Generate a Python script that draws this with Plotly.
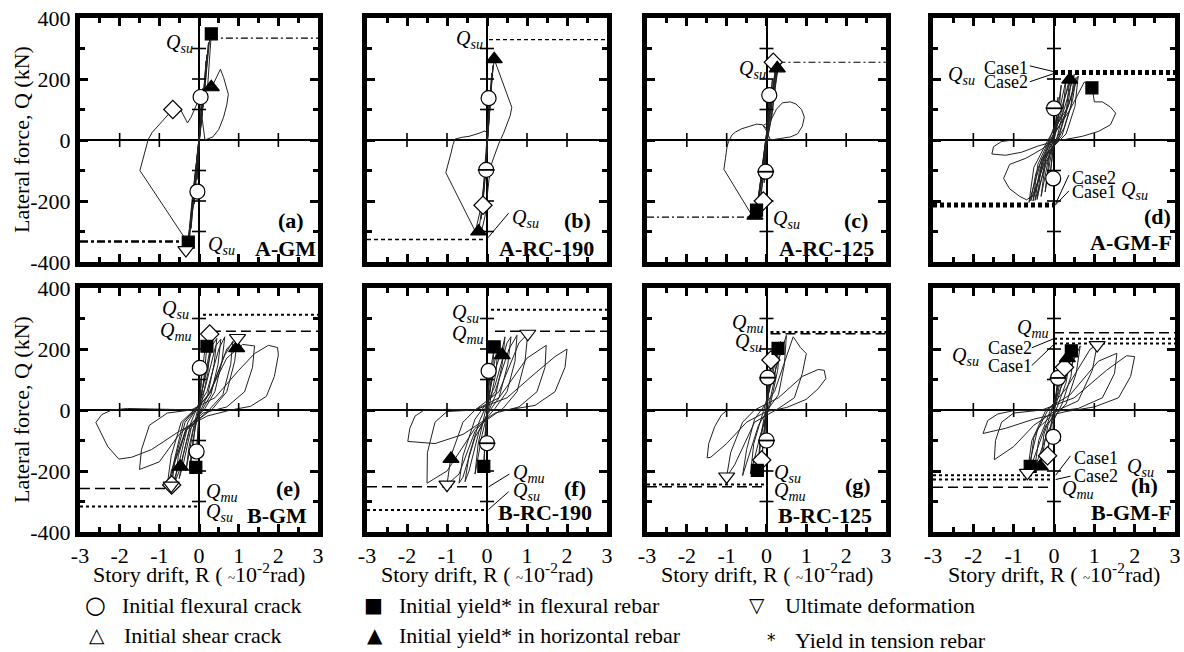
import plotly.graph_objects as go

FONT = "Liberation Serif, Times New Roman, serif"
W, H = 1184, 652

# ---------------- data ----------------
R_ticks = [-3, -2, -1, 0, 1, 2, 3]
R_ticktext = ["-3", "-2", "-1", "0", "1", "2", "3"]
Q_ticks = [-400, -200, 0, 200, 400]
Q_ticktext = ["-400", "-200", "0", "200", "400"]
cross_R = [-2, -1, 1, 2]
cross_Q = [-300, -200, -100, 100, 200, 300]

# hysteresis curves (R in 1e-2 rad, Q in kN)
loop_a = [(0, 0), (0.04, 60), (0.06, 120), (0.02, 30), (-0.02, -50), (-0.05, -130), (-0.01, -30),
          (0.05, 80), (0.1, 170), (0.05, 60), (-0.06, -90), (-0.12, -210), (-0.05, -60),
          (0.08, 100), (0.18, 260), (0.1, 120), (-0.1, -130), (-0.2, -290), (-0.1, -120),
          (0.06, 60), (0.2, 280), (0.12, 140), (-0.04, -40), (-0.24, -320), (-0.14, -170),
          (0.03, 20), (0.24, 320), (0.15, 170), (-0.02, -20), (-0.27, -330), (-0.17, -190),
          (0.1, 110), (0.28, 345), (0.31, 350), (0.25, 240), (0.22, 180), (0.31, 170), (0.42, 200),
          (0.54, 232), (0.62, 205), (0.74, 150), (0.7, 115), (0.62, 75), (0.5, 35), (0.35, 10),
          (0.15, 0), (0.06, 90), (0.04, 141), (-0.05, 120), (-0.12, 98), (-0.2, 75), (-0.29, 56),
          (-0.4, 85), (-0.5, 108), (-0.66, 100), (-0.8, 80), (-1.03, 50), (-1.18, 25), (-1.28, 2),
          (-1.34, -30), (-1.4, -60), (-1.49, -100), (-0.29, -335), (-0.22, -280), (-0.12, -200),
          (-0.05, -100), (0, -20)]
loop_b = [(0, 0), (0.03, 80), (0.06, 140), (0.02, 40), (-0.02, -60), (-0.04, -120), (-0.01, -30),
          (0.05, 100), (0.12, 220), (0.06, 80), (-0.05, -110), (-0.1, -200), (-0.04, -80),
          (0.04, 60), (0.15, 245), (0.08, 110), (-0.06, -130), (-0.15, -260), (-0.06, -100),
          (0.08, 150), (0.18, 265), (0.25, 240), (0.33, 205), (0.45, 165), (0.55, 130), (0.62, 107),
          (0.58, 80), (0.5, 50), (0.41, 21), (0.3, -10), (0.2, -45), (0.12, -75), (0.05, -130),
          (0.0, -200), (-0.05, -250), (-0.12, -290), (-0.21, -300), (-0.1, -200), (-0.04, -120),
          (0, -40), (0.02, 20), (-0.05, 30), (-0.2, 22), (-0.45, 12), (-0.62, 9), (-0.8, 3),
          (-0.85, -15), (-0.9, -43), (-0.96, -75), (-1.03, -107), (-0.29, -300), (-0.15, -220),
          (-0.06, -130), (0, -20)]
loop_c = [(0, 0), (0.04, 70), (0.07, 147), (0.02, 40), (-0.03, -60), (-0.06, -140), (-0.01, -30),
          (0.06, 100), (0.15, 200), (0.08, 80), (-0.05, -80), (-0.15, -200), (-0.06, -60),
          (0.1, 120), (0.22, 230), (0.1, 70), (-0.1, -110), (-0.22, -230), (-0.1, -80),
          (0.12, 140), (0.27, 240), (0.15, 90), (-0.05, -50), (-0.25, -240), (-0.12, -100),
          (0.08, 100), (0.25, 235), (0.18, 160), (-0.02, 0), (-0.2, -200), (-0.27, -245), (-0.16, -150),
          (0.05, 60), (0.3, 245), (0.2, 150), (0.1, 60), (0.05, 30), (-0.08, 48), (0.1, 62),
          (0.25, 101), (0.4, 122), (0.6, 125), (0.74, 118), (0.88, 100), (0.95, 75), (0.9, 45),
          (0.78, 20), (0.6, 10), (0.35, 5), (0.1, 0), (0.0, 30), (-0.1, 50), (-0.25, 52),
          (-0.45, 44), (-0.62, 37), (-0.78, 26), (-0.87, 16), (-0.95, -5), (-0.99, -21),
          (-1.03, -60), (-1.07, -96), (-0.37, -246), (-0.29, -250), (-0.2, -180), (-0.1, -90), (0, 0)]
loop_d = [(0, 0), (0.05, 80), (0.1, 140), (0.04, 40), (-0.04, -50), (-0.1, -120), (-0.03, -20),
          (0.08, 90), (0.18, 180), (0.1, 60), (0, 0), (-0.1, -70), (-0.22, -170), (-0.1, -40), (0, 10),
          (0.15, 100), (0.3, 200), (0.22, 90), (0.08, 10), (-0.12, -50), (-0.32, -185), (-0.2, -60), (-0.05, 0),
          (0.2, 100), (0.4, 210), (0.3, 90), (0.12, 10), (-0.2, -60), (-0.42, -195), (-0.3, -70), (-0.08, 0),
          (0.25, 100), (0.5, 215), (0.42, 110), (0.2, 15), (-0.25, -60), (-0.52, -200), (-0.4, -80), (-0.12, 0),
          (0.22, 120), (0.45, 212), (0.35, 120), (0.15, 30), (-0.2, -80), (-0.47, -198), (-0.36, -100), (-0.1, -10),
          (0.3, 90), (0.6, 210), (0.52, 110), (0.3, 20), (-0.3, -60), (-0.62, -205), (-0.5, -90), (-0.15, 0),
          (0.35, 110), (0.55, 205), (0.46, 130), (0.25, 40), (-0.28, -90), (-0.58, -200), (-0.45, -110), (-0.1, 0),
          (0.4, 100), (0.75, 190), (0.95, 171), (1.0, 125), (1.2, 125), (1.4, 108), (1.53, 88),
          (1.4, 50), (1.1, 28), (0.7, 12), (0.3, 3), (0, -5), (-0.4, -20), (-0.8, -40), (-1.2, -50),
          (-1.54, -46), (-1.5, -22), (-1.3, -5), (-0.9, 2), (-0.5, 2), (0, 0), (-0.3, -30), (-0.7, -60),
          (-1.1, -80), (-1.25, -126), (-1.1, -160), (-0.85, -185), (-0.68, -196), (-0.5, -180),
          (-0.35, -120), (-0.2, -50), (0, 0)]
loop_e = [(0, 0), (0.04, 80), (0.08, 150), (0.03, 40), (-0.03, -50), (-0.06, -136), (-0.02, -30),
          (0.06, 100), (0.15, 200), (0.2, 209), (0.12, 100), (0.02, 10), (-0.1, -60), (-0.2, -170),
          (-0.25, -200), (-0.15, -100), (-0.03, -10),
          (0.1, 80), (0.28, 200), (0.22, 120), (0.06, 20), (-0.15, -70), (-0.33, -200), (-0.25, -120), (-0.05, -10),
          (0.15, 100), (0.35, 215), (0.45, 235), (0.38, 150), (0.22, 50), (0.05, 0), (-0.2, -60),
          (-0.4, -180), (-0.5, -225), (-0.4, -150), (-0.2, -40),
          (0.15, 70), (0.42, 210), (0.55, 232), (0.48, 150), (0.3, 50), (0.08, 0), (-0.25, -70),
          (-0.5, -200), (-0.6, -235), (-0.52, -150), (-0.28, -40),
          (0.2, 60), (0.5, 200), (0.65, 240), (0.58, 160), (0.4, 60), (0.15, 5), (-0.3, -60),
          (-0.55, -200), (-0.69, -250), (-0.6, -160), (-0.35, -40),
          (0.3, 60), (0.7, 200), (0.97, 236), (0.9, 160), (0.7, 60), (0.35, 5), (-0.3, -60),
          (-0.7, -200), (-0.72, -265), (-0.65, -180), (-0.4, -40),
          (0.25, 50), (0.65, 180), (0.85, 225), (0.8, 150), (0.6, 50), (0.25, 0), (-0.35, -70),
          (-0.75, -220), (-0.8, -245), (-0.7, -150), (-0.45, -40),
          (0.2, 40), (0.7, 170), (1.1, 215), (1.4, 210), (1.35, 140), (1.15, 60), (0.7, 10), (0.1, -10),
          (-0.5, -80), (-1.0, -170), (-1.5, -195), (-1.45, -130), (-1.25, -50), (-0.8, -10), (-0.2, 0),
          (0.4, 40), (1.0, 130), (1.4, 185), (1.75, 212), (1.98, 205), (2.0, 180), (1.9, 110),
          (1.7, 45), (1.3, 12), (0.8, 0), (0.2, -20), (-0.5, -70), (-1.2, -130), (-1.7, -155),
          (-2.02, -161), (-2.3, -120), (-2.6, -41), (-2.45, -15), (-2.2, 0), (-1.8, 5), (-1.0, 3),
          (-0.3, 0), (0, 0)]
loop_f = [(0, 0), (0.04, 80), (0.06, 128), (0.02, 30), (-0.02, -50), (0, -109), (-0.02, -30),
          (0.08, 120), (0.18, 207), (0.12, 100), (0.02, 10), (-0.05, -80), (-0.08, -185), (-0.03, -60),
          (0.1, 100), (0.28, 215), (0.22, 120), (0.05, 10), (-0.12, -80), (-0.3, -210), (-0.22, -110), (-0.05, -10),
          (0.15, 110), (0.38, 200), (0.45, 240), (0.38, 150), (0.22, 50), (0.05, 0), (-0.2, -70),
          (-0.45, -200), (-0.55, -235), (-0.45, -150), (-0.2, -40),
          (0.2, 80), (0.5, 220), (0.6, 240), (0.52, 150), (0.3, 40), (0.08, 0), (-0.3, -90),
          (-0.6, -220), (-0.7, -240), (-0.6, -150), (-0.3, -30),
          (0.2, 60), (0.55, 200), (0.75, 245), (0.7, 160), (0.5, 60), (0.2, 5), (-0.3, -70),
          (-0.7, -210), (-1.0, -245), (-0.9, -150), (-0.6, -40), (-0.3, 0),
          (0.3, 60), (0.8, 220), (1.02, 250), (0.95, 160), (0.75, 60), (0.4, 5), (-0.3, -60),
          (-1.0, -200), (-1.5, -240), (-1.49, -140), (-1.3, -40), (-1.0, -5), (-0.3, 0),
          (0.3, 40), (1.0, 170), (1.48, 212), (1.45, 140), (1.25, 60), (0.8, 10), (0.2, -10),
          (-0.6, -80), (-1.3, -110), (-1.7, -105), (-1.98, -103), (-1.93, -60), (-1.8, -20),
          (-1.57, 0), (-1.0, 2), (-0.3, 0),
          (0.5, 40), (1.2, 120), (1.7, 175), (2.0, 200), (1.95, 140), (1.7, 60), (1.2, 15), (0.5, 0), (0, 0)]
loop_g = [(0, 0), (0.03, 60), (0.03, 106), (0.01, 30), (-0.02, -50), (0, -100), (-0.02, -30),
          (0.06, 100), (0.11, 164), (0.06, 70), (0, 0), (-0.06, -80), (-0.12, -164), (-0.06, -60),
          (0.12, 120), (0.29, 202), (0.2, 100), (0.05, 10), (-0.1, -60), (-0.23, -198), (-0.15, -90), (-0.03, 0),
          (0.1, 90), (0.35, 225), (0.28, 130), (0.1, 20), (-0.15, -80), (-0.4, -210), (-0.32, -110), (-0.08, -5),
          (0.15, 100), (0.5, 245), (0.45, 150), (0.3, 50), (0.05, 5), (-0.2, -50), (-0.6, -215),
          (-0.5, -130), (-0.3, -30),
          (0.2, 60), (0.67, 240), (0.75, 225), (0.85, 205), (1.0, 185), (0.9, 120), (0.7, 40),
          (0.3, 5), (-0.3, -40), (-0.8, -180), (-1.0, -218), (-0.9, -140), (-0.6, -40), (-0.3, 0),
          (0.3, 40), (0.9, 110), (1.3, 133), (1.45, 130), (1.49, 103), (1.3, 70), (1.0, 35), (0.5, 8),
          (0, -5), (-0.5, -40), (-1.0, -110), (-1.4, -155), (-1.49, -157), (-1.45, -110), (-1.3, -54),
          (-1.13, -16), (-1.0, -2), (-0.5, 0), (0, 0)]
loop_h = [(0, 0), (0.05, 60), (0.1, 105), (0.04, 30), (-0.02, -40), (-0.02, -88), (-0.01, -20),
          (0.1, 90), (0.26, 140), (0.15, 60), (0, 0), (-0.08, -60), (-0.16, -150), (-0.08, -50),
          (0.15, 90), (0.33, 175), (0.43, 194), (0.3, 90), (0.08, 10), (-0.15, -50), (-0.34, -185),
          (-0.25, -80), (-0.05, 0),
          (0.15, 100), (0.5, 200), (0.42, 110), (0.2, 20), (-0.15, -70), (-0.48, -192), (-0.38, -100), (-0.1, -5),
          (0.2, 80), (0.65, 210), (0.55, 120), (0.3, 20), (-0.2, -50), (-0.6, -195), (-0.5, -90), (-0.15, 0),
          (0.3, 70), (0.9, 200), (1.07, 213), (0.95, 130), (0.6, 30), (0.1, 0), (-0.4, -60),
          (-0.66, -206), (-0.55, -100), (-0.2, 0),
          (0.4, 50), (1.1, 160), (1.56, 186), (1.5, 120), (1.2, 40), (0.6, 5), (0, -5), (-0.5, -50),
          (-1.0, -120), (-1.48, -163), (-1.45, -100), (-1.3, -40), (-1.0, -10), (-0.3, 0),
          (0.5, 40), (1.3, 130), (1.8, 178), (2.0, 175), (1.9, 110), (1.6, 40), (1.0, 10), (0.3, -5),
          (-0.5, -30), (-1.2, -60), (-1.76, -77), (-1.64, -34), (-1.39, -13), (-1.0, -2), (-0.3, 0), (0, 0)]

# damage events
circ_a = [(0.04, 141), (-0.04, -169)]; circm_a = []; diam_a = [(-0.66, 100)]
sq_a = [(0.31, 348), (-0.27, -335)]; tri_a = [(0.31, 173)]; ult_a = [(-0.33, -361)]
circ_b = [(0.04, 137)]; circm_b = [(-0.02, -98)]; diam_b = [(-0.1, -214)]
sq_b = []; tri_b = [(0.18, 265), (-0.21, -300)]; ult_b = []
circ_c = [(0.07, 147)]; circm_c = [(-0.02, -104)]; diam_c = [(0.17, 255), (-0.08, -200)]
sq_c = [(-0.25, -230)]; tri_c = [(0.27, 235), (-0.29, -248)]; ult_c = []
circ_d = [(-0.02, -126)]; circm_d = [(0, 104)]; diam_d = []
sq_d = [(0.94, 171)]; tri_d = [(0.39, 198)]; ult_d = []
circ_e = [(0.02, 138), (-0.06, -136)]; circm_e = []; diam_e = [(0.27, 249), (-0.69, -246)]
sq_e = [(0.2, 209), (-0.08, -188)]; tri_e = [(0.95, 203), (-0.47, -186)]; ult_e = [(0.97, 236), (-0.7, -248)]
circ_f = [(0.04, 128)]; circm_f = [(0, -109)]; diam_f = []
sq_f = [(0.18, 207), (-0.08, -185)]; tri_f = [(0.38, 180), (-0.9, -160)]; ult_f = [(1.02, 250), (-1.0, -245)]
circ_g = []; circm_g = [(0.03, 106), (0, -100)]; diam_g = [(0.11, 164), (-0.12, -164)]
sq_g = [(0.29, 202), (-0.23, -198)]; tri_g = []; ult_g = [(-1.0, -218)]
circ_h = [(-0.02, -88)]; circm_h = [(0.1, 105)]; diam_h = [(0.26, 140), (-0.16, -150)]
sq_h = [(0.43, 194), (-0.59, -185)]; tri_h = [(0.33, 170), (-0.34, -185)]; ult_h = [(1.07, 213), (-0.66, -206)]

# strength reference lines: (Q, R_from, R_to, style)
lines_a = [(334, 0.3, 3, "su"), (-333, -3, -0.3, "su_thick")]
lines_b = [(329, 0.05, 3, "su2"), (-326, -3, 0, "su2")]
lines_c = [(255, 0.3, 3, "su"), (-253, -3, -0.3, "su")]
lines_d = [(224, 0, 3, "case"), (218, 0, 3, "case"), (-210, -3, 0, "case"), (-216, -3, 0, "case")]
lines_e = [(312, 0.1, 3, "dot"), (258, 0.3, 3, "mu"), (-257, -3, -0.6, "mu"), (-316, -3, 0, "dot")]
lines_f = [(329, 0.1, 3, "dot"), (258, 0.2, 3, "mu"), (-252, -3, 0, "mu"), (-328, -3, 0, "dot")]
lines_g = [(256, 0.1, 3, "dot"), (250, 0.1, 3, "mu"), (-244, -3, 0, "dot"), (-252, -3, 0, "mu")]
lines_h = [(253, 0, 3, "mu"), (234, 0, 3, "dot"), (218, 0, 3, "dot"),
           (-214, -3, 0, "dot"), (-228, -3, 0, "dot"), (-253, -3, 0, "mu")]

QSU = "<i>Q</i><sub><i>su</i></sub>"
QMU = "<i>Q</i><sub><i>mu</i></sub>"
# labels: (text, R, Q, xanchor)
labels_a = [(QSU, -0.1, 318, "right"), (QSU, 0.17, -345, "left")]
labels_b = [(QSU, -0.04, 331, "right"), (QSU, 0.58, -257, "left")]
labels_c = [(QSU, 0.04, 232, "right"), (QSU, 0.12, -262, "left")]
labels_d = [(QSU, -1.9, 213, "right"), ("Case1", -1.79, 237, "left"), ("Case2", -1.79, 189, "left"),
            ("Case2", 0.39, -126, "left"), ("Case1", 0.39, -169, "left"), (QSU, 1.6, -164, "left")]
labels_e = [(QSU, -0.19, 328, "right"), (QMU, -0.12, 258, "right"),
            (QMU, 0.12, -272, "left"), (QSU, 0.12, -335, "left")]
labels_f = [(QSU, -0.15, 315, "right"), (QMU, -0.02, 247, "right"),
            (QMU, 0.59, -208, "left"), (QSU, 0.59, -268, "left")]
labels_g = [(QMU, -0.02, 283, "right"), (QSU, -0.07, 222, "right"),
            (QSU, 0.14, -208, "left"), (QMU, 0.14, -266, "left")]
labels_h = [(QMU, -0.08, 267, "right"), ("Case2", -1.68, 202, "left"), ("Case1", -1.68, 143, "left"),
            (QSU, -1.8, 175, "right"), ("Case1", 0.45, -158, "left"), ("Case2", 0.45, -217, "left"),
            (QSU, 1.75, -190, "left"), (QMU, 0.16, -262, "left")]

leaders_a = []
leaders_b = [((0.54, -240), (0.02, -321))]
leaders_c = []
leaders_d = [((-0.6, 243), (0, 224)), ((-0.6, 191), (0, 218)),
             ((0.37, -115), (0.04, -209)), ((0.37, -167), (0.02, -215))]
leaders_e = []
leaders_f = [((0.56, -210), (0.04, -252)), ((0.54, -268), (0.04, -326))]
leaders_g = []
leaders_h = [((-0.55, 204), (0, 234)), ((-0.55, 146), (0.02, 218)),
             ((0.41, -150), (0.04, -214)), ((0.41, -217), (0.04, -228))]

tags = ["(a)", "(b)", "(c)", "(d)", "(e)", "(f)", "(g)", "(h)"]
names = ["A-GM", "A-RC-190", "A-RC-125", "A-GM-F", "B-GM", "B-RC-190", "B-RC-125", "B-GM-F"]

legend_items = [("○", "Initial flexural crack"), ("△", "Initial shear crack"),
                ("■", "Initial yield* in flexural rebar"), ("▲", "Initial yield* in horizontal rebar"),
                ("▽", "Ultimate deformation"), ("*", "Yield in tension rebar")]

# ---------------- layout geometry (pixels) ----------------
cols_px = [(80, 318), (367, 607), (647, 886), (933, 1175)]
rows_px = [(18, 262), (288, 532)]
tag_px = [(306, 220), (593, 220), (870, 220), (1173, 217), (302, 488), (588, 488), (873, 485), (1160, 485)]
name_px = [(318, 248), (596, 248), (876, 248), (1174, 243), (309, 515), (594, 512), (874, 515), (1174, 512)]
legend_px = [(95, 605, 120), (97, 635, 122), (373, 605, 397), (375, 635, 397), (757, 605, 783), (772, 640, 793)]
legend_sym_size = [24, 20, 20, 20, 20, 17]


def px(x):
    return x / W


def py(y):
    return 1 - y / H


line_styles = {
    "su": dict(dash="7px,3px,2px,3px", width=1.2),
    "su_thick": dict(dash="8px,3px,3px,3px", width=2.6),
    "su2": dict(dash="4px,3px", width=1.4),
    "case": dict(dash="4px,3px", width=3.2),
    "dot": dict(dash="3px,3px", width=2),
    "mu": dict(dash="10px,5px", width=1.5),
}

loops = [loop_a, loop_b, loop_c, loop_d, loop_e, loop_f, loop_g, loop_h]
circs = [circ_a, circ_b, circ_c, circ_d, circ_e, circ_f, circ_g, circ_h]
circms = [circm_a, circm_b, circm_c, circm_d, circm_e, circm_f, circm_g, circm_h]
diams = [diam_a, diam_b, diam_c, diam_d, diam_e, diam_f, diam_g, diam_h]
sqs = [sq_a, sq_b, sq_c, sq_d, sq_e, sq_f, sq_g, sq_h]
tris = [tri_a, tri_b, tri_c, tri_d, tri_e, tri_f, tri_g, tri_h]
ults = [ult_a, ult_b, ult_c, ult_d, ult_e, ult_f, ult_g, ult_h]
lines_all = [lines_a, lines_b, lines_c, lines_d, lines_e, lines_f, lines_g, lines_h]
labels_all = [labels_a, labels_b, labels_c, labels_d, labels_e, labels_f, labels_g, labels_h]
leaders_all = [leaders_a, leaders_b, leaders_c, leaders_d, leaders_e, leaders_f, leaders_g, leaders_h]

fig = go.Figure()
annotations = []
shapes = []


def marker_trace(pts, xa, ya, symbol, size, fill, lw=1.2):
    if not pts:
        return None
    return go.Scatter(x=[p[0] for p in pts], y=[p[1] for p in pts], mode="markers",
                      xaxis=xa, yaxis=ya, hoverinfo="skip",
                      marker=dict(symbol=symbol, size=size, color=fill,
                                  line=dict(color="black", width=lw)))


for i in range(8):
    r, c = divmod(i, 4)
    n = "" if i == 0 else str(i + 1)
    xa, ya = "x" + n, "y" + n
    x0, x1 = cols_px[c]
    y0, y1 = rows_px[r]
    fig.layout["xaxis" + n] = dict(
        domain=[px(x0), px(x1)], anchor=ya, range=[-3, 3], tickvals=R_ticks, ticktext=R_ticktext,
        automargin=False,
        showticklabels=(r == 1), ticks="inside", ticklen=8, tickwidth=3, tickcolor="black",
        minor=dict(ticks="inside", dtick=0.5, tick0=0, ticklen=5, tickwidth=3, tickcolor="black"),
        showline=True, linewidth=5, linecolor="black", mirror="ticks", showgrid=False,
        zeroline=True, zerolinewidth=2, zerolinecolor="black",
        tickfont=dict(family=FONT, size=22, color="black"), fixedrange=True)
    fig.layout["yaxis" + n] = dict(
        domain=[py(y1), py(y0)], anchor=xa, range=[-400, 400], tickvals=Q_ticks, ticktext=Q_ticktext,
        automargin=False,
        showticklabels=(c == 0), ticks="inside", ticklen=8, tickwidth=3, tickcolor="black",
        minor=dict(ticks="inside", dtick=100, tick0=0, ticklen=5, tickwidth=3, tickcolor="black"),
        showline=True, linewidth=5, linecolor="black", mirror="ticks", showgrid=False,
        zeroline=True, zerolinewidth=2, zerolinecolor="black",
        tickfont=dict(family=FONT, size=22, color="black"), fixedrange=True)

    # hysteresis curve
    lp = loops[i]
    fig.add_trace(go.Scatter(x=[p[0] for p in lp], y=[p[1] for p in lp], mode="lines",
                             xaxis=xa, yaxis=ya, hoverinfo="skip",
                             line=dict(color="#222222", width=1)))
    # crossing ticks on zero lines
    fig.add_trace(go.Scatter(x=cross_R, y=[0] * len(cross_R), mode="markers", xaxis=xa, yaxis=ya,
                             hoverinfo="skip",
                             marker=dict(symbol="line-ns", size=10, line=dict(color="black", width=1.6))))
    fig.add_trace(go.Scatter(x=[0] * len(cross_Q), y=cross_Q, mode="markers", xaxis=xa, yaxis=ya,
                             hoverinfo="skip",
                             marker=dict(symbol="line-ew", size=10, line=dict(color="black", width=1.6))))
    # reference lines
    for (q, ra, rb, st) in lines_all[i]:
        s = line_styles[st]
        fig.add_trace(go.Scatter(x=[ra, rb], y=[q, q], mode="lines", xaxis=xa, yaxis=ya,
                                 hoverinfo="skip",
                                 line=dict(color="black", width=s["width"], dash=s["dash"])))
    # leaders
    for (p0, p1) in leaders_all[i]:
        shapes.append(dict(type="line", xref=xa, yref=ya, x0=p0[0], y0=p0[1], x1=p1[0], y1=p1[1],
                           line=dict(color="black", width=1)))
    # event markers
    for t in [marker_trace(circs[i], xa, ya, "circle", 15, "white"),
              marker_trace(circms[i], xa, ya, "circle", 15, "white"),
              marker_trace(circms[i], xa, ya, "line-ew", 12, "black", 1.8),
              marker_trace(diams[i], xa, ya, "diamond", 14, "white"),
              marker_trace(sqs[i], xa, ya, "square", 12, "black"),
              marker_trace(tris[i], xa, ya, "triangle-up", 14, "black"),
              marker_trace(ults[i], xa, ya, "triangle-down", 14, "white")]:
        if t is not None:
            fig.add_trace(t)
    # labels
    for (txt, rr, qq, anc) in labels_all[i]:
        fs = 18 if txt.startswith("Case") else 20
        annotations.append(dict(text=txt, x=rr, y=qq, xref=xa, yref=ya, xanchor=anc, yanchor="middle",
                                showarrow=False, font=dict(family=FONT, size=fs, color="black")))
    # tags and names
    annotations.append(dict(text="<b>%s</b>" % tags[i], x=px(tag_px[i][0]), y=py(tag_px[i][1]),
                            xref="paper", yref="paper", xanchor="right", yanchor="middle",
                            showarrow=False, font=dict(family=FONT, size=22, color="black")))
    annotations.append(dict(text="<b>%s</b>" % names[i], x=px(name_px[i][0]), y=py(name_px[i][1]),
                            xref="paper", yref="paper", xanchor="right", yanchor="middle",
                            showarrow=False, font=dict(family=FONT, size=22, color="black")))

# axis titles
for (y0, y1) in rows_px:
    annotations.append(dict(text="Lateral force, Q (kN)", x=px(21), y=py((y0 + y1) / 2),
                            xref="paper", yref="paper", textangle=-90, showarrow=False,
                            xanchor="center", yanchor="middle",
                            font=dict(family=FONT, size=22, color="black")))
for (x0, x1) in cols_px:
    annotations.append(dict(text="Story drift, R ( <span style='font-size:13px'>~</span>10<sup>-2</sup>rad)",
                            x=px((x0 + x1) / 2), y=py(573), xref="paper", yref="paper",
                            showarrow=False, xanchor="center", yanchor="middle",
                            font=dict(family=FONT, size=22, color="black")))

# legend
for (sym, txt), (sx, sy, tx), ss in zip(legend_items, legend_px, legend_sym_size):
    annotations.append(dict(text=sym, x=px(sx), y=py(sy), xref="paper", yref="paper", showarrow=False,
                            xanchor="center", yanchor="middle",
                            font=dict(family="DejaVu Sans", size=ss, color="black")))
    annotations.append(dict(text=txt, x=px(tx), y=py(sy), xref="paper", yref="paper", showarrow=False,
                            xanchor="left", yanchor="middle",
                            font=dict(family=FONT, size=22, color="black")))

fig.update_layout(width=W, height=H, margin=dict(l=0, r=0, t=0, b=0, autoexpand=False),
                  paper_bgcolor="white", plot_bgcolor="white", showlegend=False,
                  annotations=annotations, shapes=shapes)

fig.write_html("out.html", config={"displayModeBar": False},
               post_script="document.body.style.margin='0px';document.body.style.overflow='hidden';")
